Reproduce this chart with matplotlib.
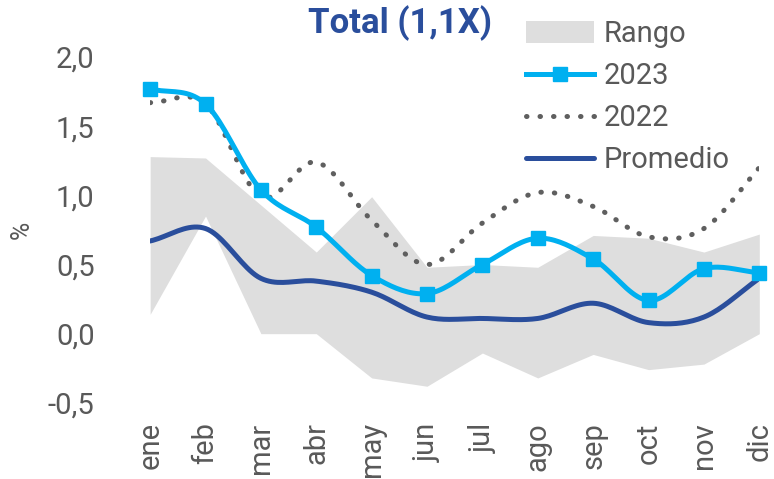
import numpy as np
import matplotlib.pyplot as plt
from matplotlib.patches import Patch
from matplotlib.lines import Line2D

plt.rcParams['font.family'] = ['Roboto', 'DejaVu Sans']

# datos
meses = ['ene', 'feb', 'mar', 'abr', 'may', 'jun', 'jul', 'ago', 'sep', 'oct', 'nov', 'dic']
rango_max = [1.28, 1.27, 0.93, 0.59, 0.99, 0.48, 0.50, 0.48, 0.71, 0.69, 0.59, 0.72]
rango_min = [0.14, 0.85, 0.00, 0.00, -0.32, -0.38, -0.14, -0.32, -0.15, -0.26, -0.22, 0.00]
v2023 = [1.77, 1.66, 1.04, 0.77, 0.42, 0.29, 0.50, 0.69, 0.54, 0.24, 0.47, 0.44]
v2022 = [1.67, 1.66, 0.99, 1.24, 0.82, 0.50, 0.80, 1.02, 0.92, 0.70, 0.76, 1.20]
promedio = [0.67, 0.76, 0.40, 0.38, 0.30, 0.12, 0.11, 0.11, 0.22, 0.08, 0.12, 0.40]

azul_claro = '#00B0F0'
azul_osc = '#2A4E9C'
gris = '#5F5F5F'
gris_banda = '#DEDEDE'
gris_texto = '#595959'


def suavizar(y, n=20):
    # curva suave tipo Excel (Catmull-Rom)
    y = np.asarray(y, dtype=float)
    x = np.arange(len(y), dtype=float)
    px = np.concatenate([[2 * x[0] - x[1]], x, [2 * x[-1] - x[-2]]])
    py = np.concatenate([[2 * y[0] - y[1]], y, [2 * y[-1] - y[-2]]])
    xs, ys = [], []
    t = np.linspace(0, 1, n, endpoint=False)
    for i in range(1, len(px) - 2):
        for arr, out in ((px, xs), (py, ys)):
            p0, p1, p2, p3 = arr[i - 1], arr[i], arr[i + 1], arr[i + 2]
            out.extend(0.5 * ((2 * p1) + (-p0 + p2) * t
                              + (2 * p0 - 5 * p1 + 4 * p2 - p3) * t ** 2
                              + (-p0 + 3 * p1 - 3 * p2 + p3) * t ** 3))
    xs.append(x[-1])
    ys.append(y[-1])
    return np.array(xs), np.array(ys)


fig = plt.figure(figsize=(7.74, 4.79), dpi=100)
ax = fig.add_axes([0.194, 0.159, 0.787, 0.722])
x = np.arange(len(meses))

ax.fill_between(x, rango_min, rango_max, color=gris_banda, linewidth=0, zorder=1)

sx, sy = suavizar(v2022)
ax.plot(sx, sy, color=gris, lw=3.6, linestyle=(0, (0.1, 2.6)),
        dash_capstyle='round', zorder=2)

sx, sy = suavizar(promedio)
ax.plot(sx, sy, color=azul_osc, lw=3.6, solid_capstyle='round', zorder=3)

sx, sy = suavizar(v2023)
ax.plot(sx, sy, color=azul_claro, lw=3.6, zorder=4)
ax.plot(x, v2023, linestyle='none', marker='s', markersize=9.5,
        color=azul_claro, zorder=5, clip_on=False)

ax.set_xlim(0, 11)
ax.set_ylim(-0.5, 2.0)
ax.set_yticks([-0.5, 0, 0.5, 1.0, 1.5, 2.0])
ax.set_yticklabels([f'{v:.1f}'.replace('.', ',') for v in ax.get_yticks()])
ax.set_xticks(x)
ax.set_xticklabels(meses, rotation=90)
ax.tick_params(length=0, labelsize=21, colors=gris_texto)
ax.tick_params(axis='y', pad=40)
ax.tick_params(axis='x', pad=14)
for s in ax.spines.values():
    s.set_visible(False)

fig.text(0.028, 0.52, '%', rotation=90, fontsize=18, color=gris_texto,
         ha='center', va='center')
fig.text(0.517, 0.952, 'Total (1,1X)', fontsize=25, fontweight='bold',
         color=azul_osc, ha='center', va='center')

handles = [
    Patch(facecolor=gris_banda, edgecolor='none'),
    Line2D([], [], color=azul_claro, lw=3.6, marker='s', markersize=9.5),
    Line2D([], [], color=gris, lw=3.6, linestyle=(0, (0.1, 2.6)), dash_capstyle='round'),
    Line2D([], [], color=azul_osc, lw=3.6, solid_capstyle='round'),
]
leg = fig.legend(handles, ['Rango', '2023', '2022', 'Promedio'],
                 loc='upper left', bbox_to_anchor=(0.653, 1.0), frameon=False,
                 fontsize=21, handlelength=2.35, handleheight=0.8,
                 handletextpad=0.3, labelspacing=0.48, borderpad=0.2)
for t in leg.get_texts():
    t.set_color(gris_texto)

fig.savefig('out.png', dpi=100)
